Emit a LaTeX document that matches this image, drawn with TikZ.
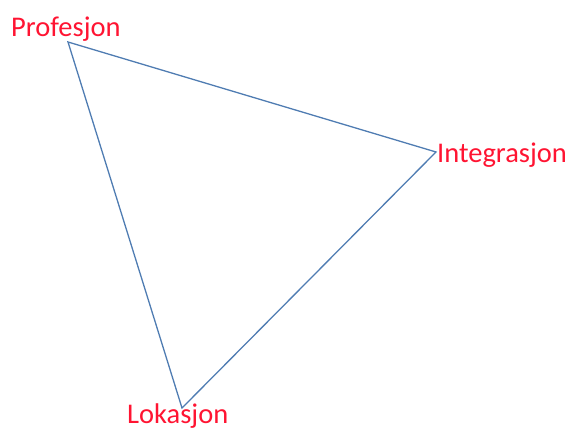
\documentclass[tikz,border=0pt]{standalone}
\usepackage{fontspec}
\setmainfont{Carlito}
\definecolor{edgeblue}{RGB}{79,124,178}
\definecolor{labelred}{RGB}{255,20,50}
\begin{document}
\begin{tikzpicture}[x=1pt,y=-1pt,
  lab/.style={anchor=base west,inner sep=0pt,text=labelred,font=\fontsize{28.5}{32}\selectfont},
  edge/.style={draw=edgeblue,line width=1.3pt,line join=miter}]
\useasboundingbox (0,0) rectangle (568,428);
\coordinate (p) at (68,42);
\coordinate (i) at (436,152);
\coordinate (l) at (182,408);
\node[lab] (tp) at (11,37) {Profesjon};
\node[lab] (ti) at (437,162) {Integrasjon};
\node[lab] (tl) at (127,423) {Lokasjon};
\draw[edge] (p) -- (i) -- (l) -- cycle;
\end{tikzpicture}
\end{document}
